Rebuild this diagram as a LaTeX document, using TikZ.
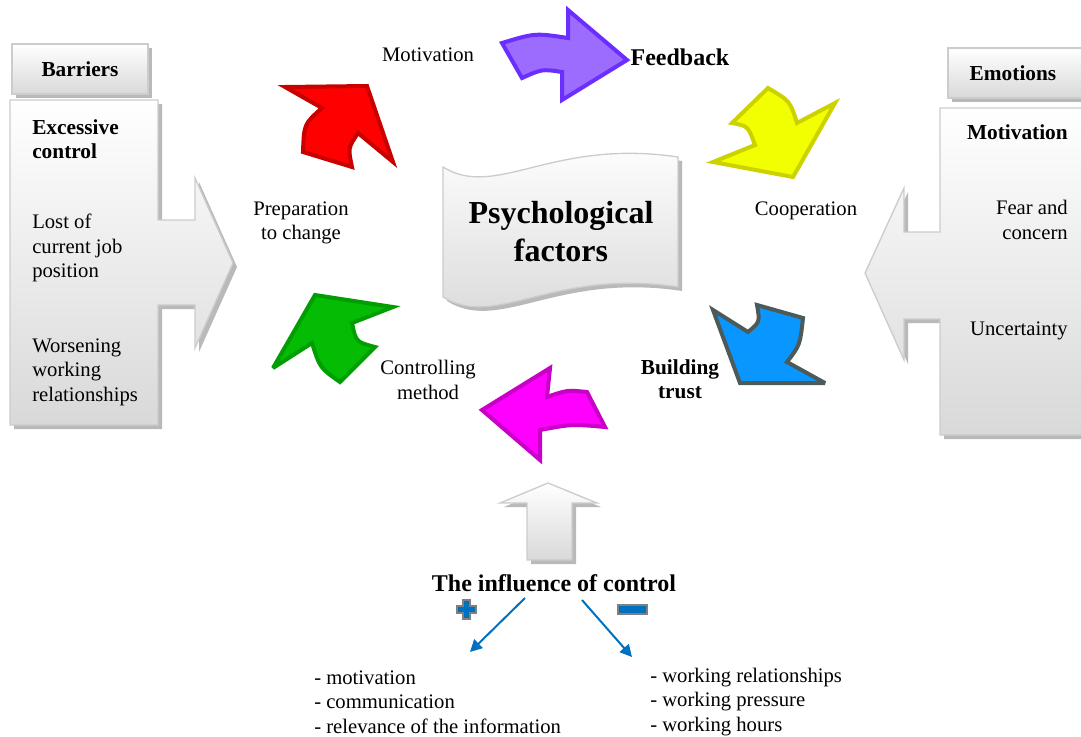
\documentclass[tikz,border=0pt]{standalone}
\usepackage{fontspec}
\setmainfont{Liberation Serif}
\usetikzlibrary{arrows.meta}

\definecolor{rossoF}{HTML}{FF0000}  \definecolor{rossoB}{HTML}{C80000}
\definecolor{violaF}{HTML}{9C6CFF}  \definecolor{violaB}{HTML}{6A2EFF}
\definecolor{gialloF}{HTML}{F2FF00} \definecolor{gialloB}{HTML}{CCD200}
\definecolor{bluF}{HTML}{0A96FF}    \definecolor{bluB}{HTML}{4C5A5A}
\definecolor{magF}{HTML}{FF00FF}    \definecolor{magB}{HTML}{C800C8}
\definecolor{verdeF}{HTML}{05BC05}  \definecolor{verdeB}{HTML}{009E00}
\definecolor{blu}{HTML}{0070C0}

\begin{document}
\begin{tikzpicture}
    [x=0.75pt,y=-0.75pt,
     ombra/.style={fill=gray!55,draw=none},
     riquadro/.style={draw=gray!40,line width=1pt,top color=white,bottom color=gray!30},
     freccia/.style={line width=3pt,line join=miter,miter limit=4},
     testo/.style={font=\fontsize{15.5}{18.3}\selectfont,inner sep=0pt},
     grassetto/.style={font=\fontsize{16}{18.3}\selectfont\bfseries,inner sep=0pt},
     grande/.style={font=\fontsize{18}{21}\selectfont\bfseries,inner sep=0pt},
     linea/.style={draw=blu,line width=1.5pt,-{Triangle[length=9pt,width=9pt]}}]
    \useasboundingbox (0,0) rectangle (1081,736);
    \clip (0,0) rectangle (1081,736);

    % barriers
    \fill[ombra] (16,48) rectangle (152,98);
    \draw[riquadro] (12,44) rectangle (148,94);
    \node[grassetto] (barriere) at (80,69) {Barriers};
    \fill[ombra] (14,104) -- (162,104) -- (162,224) -- (199,224) -- (199,182) -- (237,267)
        -- (199,352) -- (199,309) -- (162,309) -- (162,429) -- (14,429) -- cycle;
    \draw[riquadro] (10,100) -- (158,100) -- (158,220) -- (195,220) -- (195,178) -- (233,263)
        -- (195,348) -- (195,305) -- (158,305) -- (158,425) -- (10,425) -- cycle;
    \node[grassetto,anchor=west,align=left] (eccesso) at (32,139) {Excessive\\control};
    \node[testo,anchor=west,align=left] (perdita) at (32,248) {Lost of\\current job\\position};
    \node[testo,anchor=west,align=left] (rapporti) at (32,372) {Worsening\\working\\relationships};

    % emotions
    \fill[ombra] (952,52) rectangle (1090,102);
    \draw[riquadro] (948,48) rectangle (1090,98);
    \node[grassetto] (emozioni) at (1013,73) {Emotions};
    \fill[ombra] (1090,112) -- (944,112) -- (944,236) -- (908,236) -- (908,192) -- (869,277)
        -- (908,364) -- (908,323) -- (944,323) -- (944,439) -- (1090,439) -- cycle;
    \draw[riquadro] (1090,108) -- (940,108) -- (940,232) -- (904,232) -- (904,188) -- (865,273)
        -- (904,360) -- (904,319) -- (940,319) -- (940,435) -- (1090,435) -- cycle;
    \node[grassetto,anchor=east] (motiv2) at (1068,132) {Motivation};
    \node[testo,anchor=east,align=right] (paura) at (1068,220) {Fear and\\concern};
    \node[testo,anchor=east] (incertezza) at (1068,331) {Uncertainty};

    % centre
    \fill[ombra] (447,171) .. controls (500,204) and (556,142) .. (682,161) -- (682,291)
        .. controls (556,272) and (500,334) .. (447,301) -- cycle;
    \draw[riquadro] (443,167) .. controls (496,200) and (552,138) .. (678,157) -- (678,287)
        .. controls (552,268) and (496,330) .. (443,297) -- cycle;
    \node[font=\fontsize{24}{28.5}\selectfont\bfseries,align=center,inner sep=0pt] (titolo)
        at (561,232) {Psychological\\factors};

    % curved arrows
    \draw[freccia,draw=rossoB,fill=rossoF] (367,86) -- (285,87) -- (322,108)
        .. controls (304,124) .. (303,152) -- (352,167) .. controls (348,148) .. (358,133) -- (393,162) -- cycle;
    \draw[freccia,draw=violaB,fill=violaF] (627,60) -- (568,10) -- (568,38)
        .. controls (535,33) .. (502,43) -- (522,78) .. controls (542,69) .. (562,72) -- (562,100) -- cycle;
    \draw[freccia,draw=gialloB,fill=gialloF] (793,177) -- (835,103) -- (797,123)
        .. controls (790,101) .. (768,88) -- (732,123) .. controls (748,126) .. (755,145) -- (713,162) -- cycle;
    \draw[freccia,draw=bluB,fill=bluF] (740,383) -- (713,310) -- (748,332)
        .. controls (760,322) .. (757,305) -- (803,318) .. controls (800,345) .. (787,362) -- (825,383) -- cycle;
    \draw[freccia,draw=magB,fill=magF] (482,410) -- (550,368) -- (547,397)
        .. controls (567,390) .. (587,392) -- (605,427) .. controls (572,424) .. (540,430) -- (540,460) -- cycle;
    \draw[freccia,draw=verdeB,fill=verdeF] (315,295) -- (393,307) -- (352,323)
        .. controls (356,342) .. (375,347) -- (340,382) .. controls (320,368) .. (312,343) -- (273,368) -- cycle;

    \node[testo] (motivazione) at (428,55) {Motivation};
    \node[grande] (feedback) at (680,57) {Feedback};
    \node[testo] (cooperazione) at (806,211) {Cooperation};
    \node[grassetto,align=center] (fiducia) at (680,379) {Building\\trust};
    \node[testo,align=center] (metodo) at (428,380) {Controlling\\method};
    \node[testo,align=center] (preparazione) at (301,223) {Preparation\\to change};

    % influence of control
    \fill[ombra] (552,487) -- (601,507) -- (576,507) -- (576,564) -- (531,564) -- (531,507) -- (504,507) -- cycle;
    \draw[riquadro] (548,483) -- (597,503) -- (572,503) -- (572,560) -- (527,560) -- (527,503) -- (500,503) -- cycle;
    \node[grande] (influenza) at (554,583) {The influence of control};
    \draw[draw=gray,line width=1.2pt,fill=blu] (463,600) -- (470,600) -- (470,606) -- (476,606) -- (476,613)
        -- (470,613) -- (470,619) -- (463,619) -- (463,613) -- (457,613) -- (457,606) -- (463,606) -- cycle;
    \draw[draw=gray,line width=1.5pt,fill=blu] (618,605) rectangle (647,614);

    \coordinate (piu) at (525,598);
    \coordinate (meno) at (582,600);
    \node[testo,anchor=west,align=left] (positivi) at (314,702)
        {- motivation\\- communication\\- relevance of the information};
    \node[testo,anchor=west,align=left] (negativi) at (650,702)
        {- working relationships\\- working pressure\\- working hours};
    \coordinate (piu2) at (470,652);
    \coordinate (meno2) at (632,657);
    \draw[linea] (piu) -- (piu2);
    \draw[linea] (meno) -- (meno2);

\end{tikzpicture}
\end{document}
